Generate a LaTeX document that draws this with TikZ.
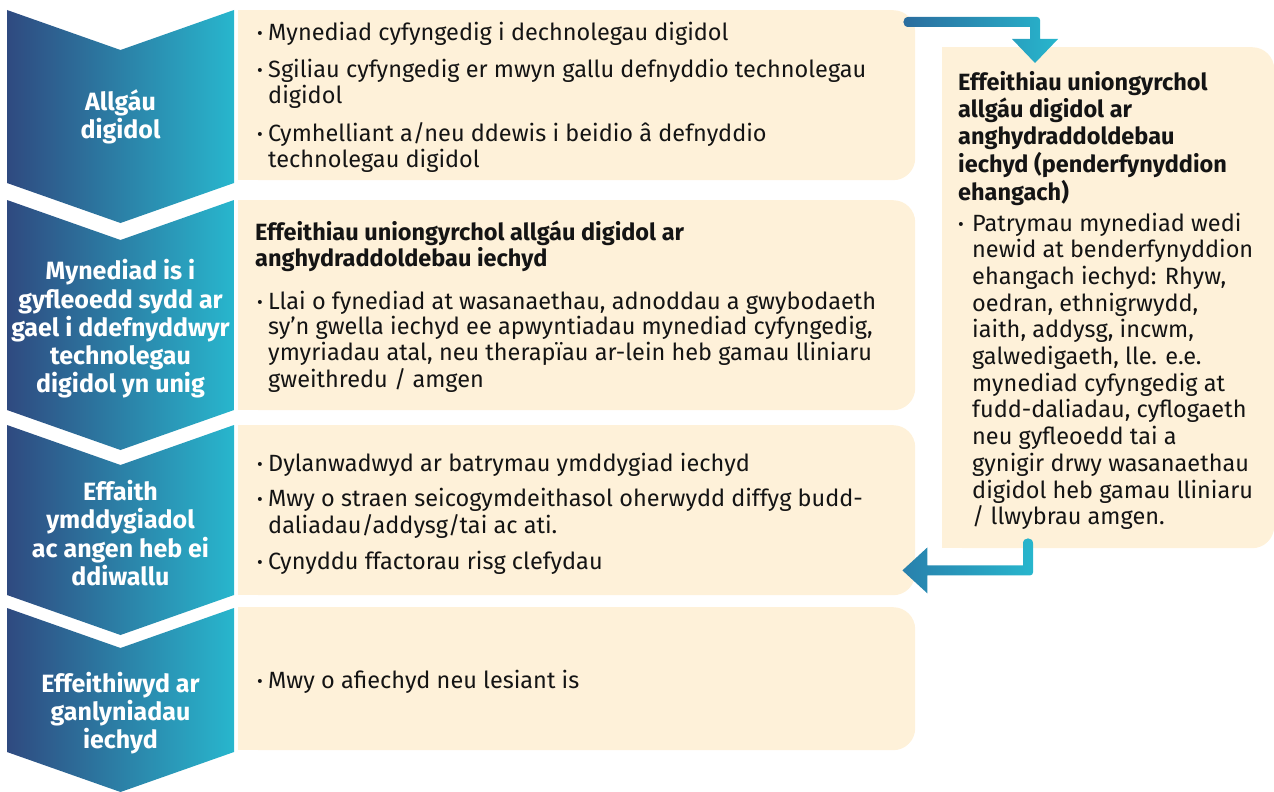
\documentclass[tikz,border=0pt]{standalone}
\usepackage{fontspec}
\usepackage{graphicx}
\setmainfont{Fira Sans}
\usetikzlibrary{calc}
\definecolor{navy}{RGB}{47,74,128}
\definecolor{cyanc}{RGB}{40,182,205}
\definecolor{cream}{RGB}{254,241,217}
\definecolor{arrdark}{RGB}{42,108,158}
\definecolor{arrmid}{RGB}{40,128,172}
\definecolor{txt}{RGB}{20,20,20}
\newcommand\bodyfont{\fontsize{23.5}{25.5}\selectfont}
\newcommand\chevfont{\fontsize{25}{28.3}\selectfont\bfseries}
\newcommand\rightfont{\fontsize{23.5}{26.7}\selectfont}
\newcommand\bul{\raisebox{1pt}{\scalebox{0.75}{\textbullet}}}
\newcommand\mychev[2]{%
  \shade[chevfill] (7,#1) -- (120.5,{#1+40}) -- (234,#1) -- (234,#2)
    -- (120.5,{#2+40}) -- (7,#2) -- cycle;}
\tikzset{
  chevfill/.style={left color=navy, right color=cyanc},
  chevtext/.style={text=white, align=center, font=\chevfont, inner sep=0pt},
  box/.style={fill=cream, rounded corners=22pt, inner sep=0pt, anchor=north west},
  bodytext/.style={text=txt, anchor=base west, inner sep=0pt, font=\bodyfont},
}
\begin{document}
\begin{tikzpicture}[x=1pt,y=-1pt]
\useasboundingbox (0,0) rectangle (1274,792);
% chevrons
\mychev{10}{183}
\mychev{200}{410}
\mychev{425}{595}
\mychev{608}{752}
\node[chevtext] (c1) at (120.5,117) {Allgáu\\digidol};
\node[chevtext] (c2) at (120.5,329) {Mynediad is i\\gyfleoedd sydd ar\\gael i ddefnyddwyr\\technolegau\\digidol yn unig};
\node[chevtext] (c3) at (120.5,533) {Effaith\\ymddygiadol\\ac angen heb ei\\ddiwallu};
\node[chevtext] (c4) at (120.5,713) {Effeithiwyd ar\\ganlyniadau\\iechyd};
% boxes
\node[box, minimum width=677pt, minimum height=170pt] (b1) at (238,10) {};
\node[box, minimum width=677pt, minimum height=210pt] (b2) at (238,200) {};
\node[box, minimum width=677pt, minimum height=170pt] (b3) at (238,425) {};
\node[box, minimum width=677pt, minimum height=143pt] (b4) at (238,607) {};
\node[box, minimum width=332pt, minimum height=501pt] (rb) at (942,47) {};
\foreach \b in {b1,b2,b3,b4,rb}
  \fill[cream] (\b.north west) rectangle ($(\b.south west)+(40,0)$);
% texts
\node[bodytext] (t1) at (257,41) {\begin{tabular}[t]{@{}p{11pt}@{}l@{}}
\bul & Mynediad cyfyngedig i dechnolegau digidol\\[11pt]
\bul & Sgiliau cyfyngedig er mwyn gallu defnyddio technolegau\\
 & digidol\\[11pt]
\bul & Cymhelliant a/neu ddewis i beidio â defnyddio\\
 & technolegau digidol
\end{tabular}};
\node[bodytext, font=\bodyfont\bfseries] (h2) at (255,240) {\begin{tabular}[t]{@{}l@{}}
Effeithiau uniongyrchol allgáu digidol ar\\
anghydraddoldebau iechyd
\end{tabular}};
\node[bodytext] (t2) at (257,309) {\begin{tabular}[t]{@{}p{11pt}@{}l@{}}
\bul & Llai o fynediad at wasanaethau, adnoddau a gwybodaeth\\
 & sy’n gwella iechyd ee apwyntiadau mynediad cyfyngedig,\\
 & ymyriadau atal, neu therapïau ar-lein heb gamau lliniaru\\
 & gweithredu / amgen
\end{tabular}};
\node[bodytext] (t3) at (257,471) {\begin{tabular}[t]{@{}p{11pt}@{}l@{}}
\bul & Dylanwadwyd ar batrymau ymddygiad iechyd\\[10pt]
\bul & Mwy o straen seicogymdeithasol oherwydd diffyg budd-\\
 & daliadau/addysg/tai ac ati.\\[10pt]
\bul & Cynyddu ffactorau risg clefydau
\end{tabular}};
\node[bodytext] (t4) at (257,688) {\begin{tabular}[t]{@{}p{11pt}@{}l@{}}
\bul & Mwy o afiechyd neu lesiant is
\end{tabular}};
\node[bodytext, font=\rightfont\bfseries] (hr) at (958,90) {\begin{tabular}[t]{@{}l@{}}
Effeithiau uniongyrchol\\
allgáu digidol ar\\
anghydraddoldebau\\
iechyd (penderfynyddion\\
ehangach)
\end{tabular}};
\node[bodytext, font=\rightfont] (tr) at (958,231) {\begin{tabular}[t]{@{}p{14pt}@{}l@{}}
\bul & Patrymau mynediad wedi\\
 & newid at benderfynyddion\\
 & ehangach iechyd: Rhyw,\\
 & oedran, ethnigrwydd,\\
 & iaith, addysg, incwm,\\
 & galwedigaeth, lle. e.e.\\
 & mynediad cyfyngedig at\\
 & fudd-daliadau, cyflogaeth\\
 & neu gyfleoedd tai a\\
 & gynigir drwy wasanaethau\\
 & digidol heb gamau lliniaru\\
 & / llwybrau amgen.
\end{tabular}};
% arrow b1 -> rb
\coordinate (s1) at ($(b1.north east)+(-7,12)$);
\coordinate (e1) at ($(rb.north west)+(93,16)$);
\shade[left color=arrdark, right color=cyanc]
  ($(s1)+(0,-5)$) -- ($(s1 -| e1)+(2,-5)$) to[out=0,in=90] ($(s1 -| e1)+(5,-2)$)
  -- ($(e1)+(5,-24)$) -- ($(e1)+(23,-24)$) -- (e1) -- ($(e1)+(-23,-24)$)
  -- ($(e1)+(-5,-24)$) -- ($(s1 -| e1)+(-5,5)$) -- ($(s1)+(0,5)$)
  .. controls ($(s1)+(-6.7,5)$) and ($(s1)+(-6.7,-5)$) .. ($(s1)+(0,-5)$) -- cycle;
% arrow rb -> b3
\coordinate (s2) at ($(rb.south west)+(86,-5)$);
\coordinate (e2) at ($(b3.south east)+(-13,-25)$);
\shade[left color=arrmid, right color=cyanc]
  ($(s2)+(5,0)$) -- ($(s2 |- e2)+(5,2)$) to[out=-90,in=0] ($(s2 |- e2)+(2,5)$)
  -- ($(e2)+(25,5)$) -- ($(e2)+(25,23)$) -- (e2) -- ($(e2)+(25,-23)$)
  -- ($(e2)+(25,-5)$) -- ($(s2 |- e2)+(-5,-5)$) -- ($(s2)+(-5,0)$)
  .. controls ($(s2)+(-5,-6.7)$) and ($(s2)+(5,-6.7)$) .. ($(s2)+(5,0)$) -- cycle;
\end{tikzpicture}
\end{document}
